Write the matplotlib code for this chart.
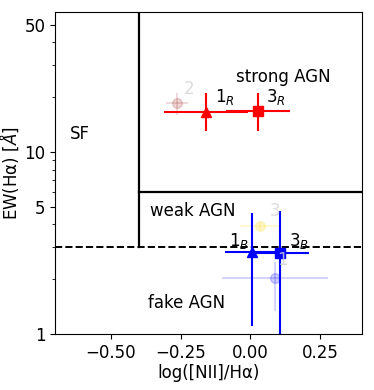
import matplotlib
matplotlib.use("Agg")
import matplotlib.pyplot as plt
from matplotlib.ticker import FixedLocator, FixedFormatter, NullFormatter

# main points (red = strong AGN region, blue = fake AGN region)
red_x = [-0.16, 0.028]
red_y = [16.6, 16.8]
red_xerr = [0.15, 0.115]
red_yerr_lo = [3.6, 3.7]
red_yerr_hi = [4.5, 4.4]
red_markers = ['^', 's']
red_labels = ['$1_R$', '$3_R$']

blue_x = [0.006, 0.107]
blue_y = [2.83, 2.80]
blue_xerr = [0.098, 0.102]
blue_yerr_lo = [1.73, 1.9]
blue_yerr_hi = [1.81, 1.94]
blue_markers = ['^', 's']
blue_labels = ['$1_B$', '$3_B$']

# faded reference points
faded_x = [0.087, -0.264, 0.033]
faded_y = [2.02, 18.5, 3.94]
faded_xerr = [0.19, 0.04, 0.07]
faded_yerr_lo = [0.69, 2.6, 0.2]
faded_yerr_hi = [0.48, 2.6, 0.2]
faded_colors = ['blue', 'brown', 'gold']
faded_labels = ['1', '2', '3']

region_labels = ['SF', 'strong AGN', 'weak AGN', 'fake AGN']

fig = plt.figure(figsize=(3.74, 3.90), dpi=100)
ax = fig.add_axes([0.147, 0.1436, 0.821, 0.826])
ax.set_yscale('log')
ax.set_xlim(-0.7, 0.4)
ax.set_ylim(1, 58.8)

# region boundaries
ax.plot([-0.4, -0.4], [3, 58.8], color='black', lw=1.6)
ax.plot([-0.4, 0.4], [6, 6], color='black', lw=1.6)
ax.axhline(3, color='black', lw=1.4, ls='--')

# faded points
for i in range(len(faded_x)):
    ax.errorbar([faded_x[i]], [faded_y[i]], xerr=[faded_xerr[i]],
                yerr=[[faded_yerr_lo[i]], [faded_yerr_hi[i]]],
                fmt='o', color=faded_colors[i], alpha=0.2, ms=7, lw=1.2)
ax.text(0.097, 2.38, faded_labels[0], color='lightgray', fontsize=12, alpha=0.8)
ax.text(-0.24, 20.8, faded_labels[1], color='lightgray', fontsize=12, alpha=0.8)
ax.text(0.07, 4.45, faded_labels[2], color='lightgray', fontsize=12, alpha=0.8)

for i in range(len(red_x)):
    ax.errorbar([red_x[i]], [red_y[i]], xerr=[red_xerr[i]],
                yerr=[[red_yerr_lo[i]], [red_yerr_hi[i]]],
                fmt=red_markers[i], color='red', ms=7, lw=1.5)
for i in range(len(blue_x)):
    ax.errorbar([blue_x[i]], [blue_y[i]], xerr=[blue_xerr[i]],
                yerr=[[blue_yerr_lo[i]], [blue_yerr_hi[i]]],
                fmt=blue_markers[i], color='blue', ms=7, lw=1.5)

ax.text(-0.128, 18.8, red_labels[0], fontsize=12)
ax.text(0.057, 18.8, red_labels[1], fontsize=12)
ax.text(-0.078, 3.05, blue_labels[0], fontsize=12)
ax.text(0.14, 3.05, blue_labels[1], fontsize=12)

ax.text(-0.645, 12.6, region_labels[0], fontsize=12, va='center')
ax.text(-0.05, 25.8, region_labels[1], fontsize=12, va='center')
ax.text(-0.36, 4.75, region_labels[2], fontsize=12, va='center')
ax.text(-0.367, 1.48, region_labels[3], fontsize=12, va='center')

ax.yaxis.set_major_locator(FixedLocator([1, 5, 10, 50]))
ax.yaxis.set_major_formatter(FixedFormatter(['1', '5', '10', '50']))
ax.yaxis.set_minor_formatter(NullFormatter())
ax.set_xticks([-0.5, -0.25, 0.0, 0.25])
ax.set_xticklabels(['\u22120.50', '\u22120.25', '0.00', '0.25'])
ax.tick_params(labelsize=12)
ax.set_xlabel('log([NII]/H\u03b1)', fontsize=12, labelpad=2)
ax.set_ylabel('EW(H\u03b1) [$\\AA$]', fontsize=12, labelpad=2)

fig.savefig('out.png', dpi=100)
